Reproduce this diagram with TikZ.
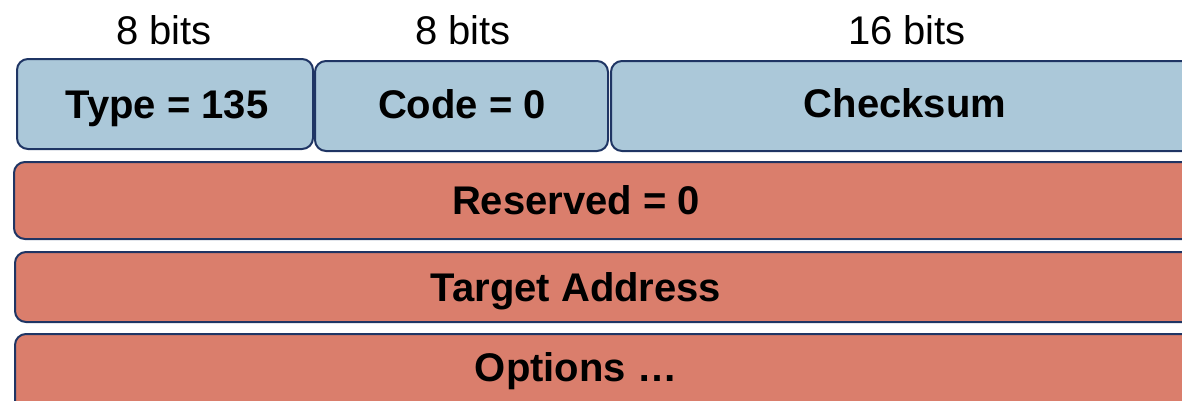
\documentclass[tikz,border=0pt]{standalone}
\usepackage{fontspec}
\setmainfont{Liberation Sans}
\definecolor{hdrblue}{HTML}{ABC8D9}
\definecolor{bodyred}{HTML}{DA7E6C}
\definecolor{edgenavy}{HTML}{1F3564}
\begin{document}
\begin{tikzpicture}[x=1pt,y=-1pt,
  field/.style={draw=edgenavy,line width=2pt,rounded corners=11pt},
  hdrfield/.style={field,fill=hdrblue},
  bodyfield/.style={field,fill=bodyred},
  flabel/.style={font=\fontsize{40}{48}\selectfont\bfseries,inner sep=0pt,anchor=base},
  wlabel/.style={font=\fontsize{40}{48}\selectfont,inner sep=0pt,anchor=base}]
\useasboundingbox (0,0) rectangle (1182,400);
\clip (0,0) rectangle (1182,400);
% header row
\draw[hdrfield] (17,59) rectangle (313,149);
\draw[hdrfield] (315,61) rectangle (608,151);
\draw[hdrfield] (611,61) rectangle (1200,151);
% body rows
\draw[bodyfield] (14,162) rectangle (1200,239);
\draw[bodyfield] (15,252) rectangle (1200,322);
\draw[bodyfield] (15,334) rectangle (1200,430);
% field widths
\node[wlabel] (w1) at (164,44) {8 bits};
\node[wlabel] (w2) at (463,44) {8 bits};
\node[wlabel] (w3) at (907,44) {16 bits};
% field names
\node[flabel] (type) at (167,118) {Type = 135};
\node[flabel] (code) at (462,118) {Code = 0};
\node[flabel] (csum) at (905,117) {Checksum};
\node[flabel] (resv) at (576,214) {Reserved = 0};
\node[flabel] (targ) at (576,301) {Target Address};
\node[flabel] (opts) at (576,381) {Options …};
\end{tikzpicture}
\end{document}
